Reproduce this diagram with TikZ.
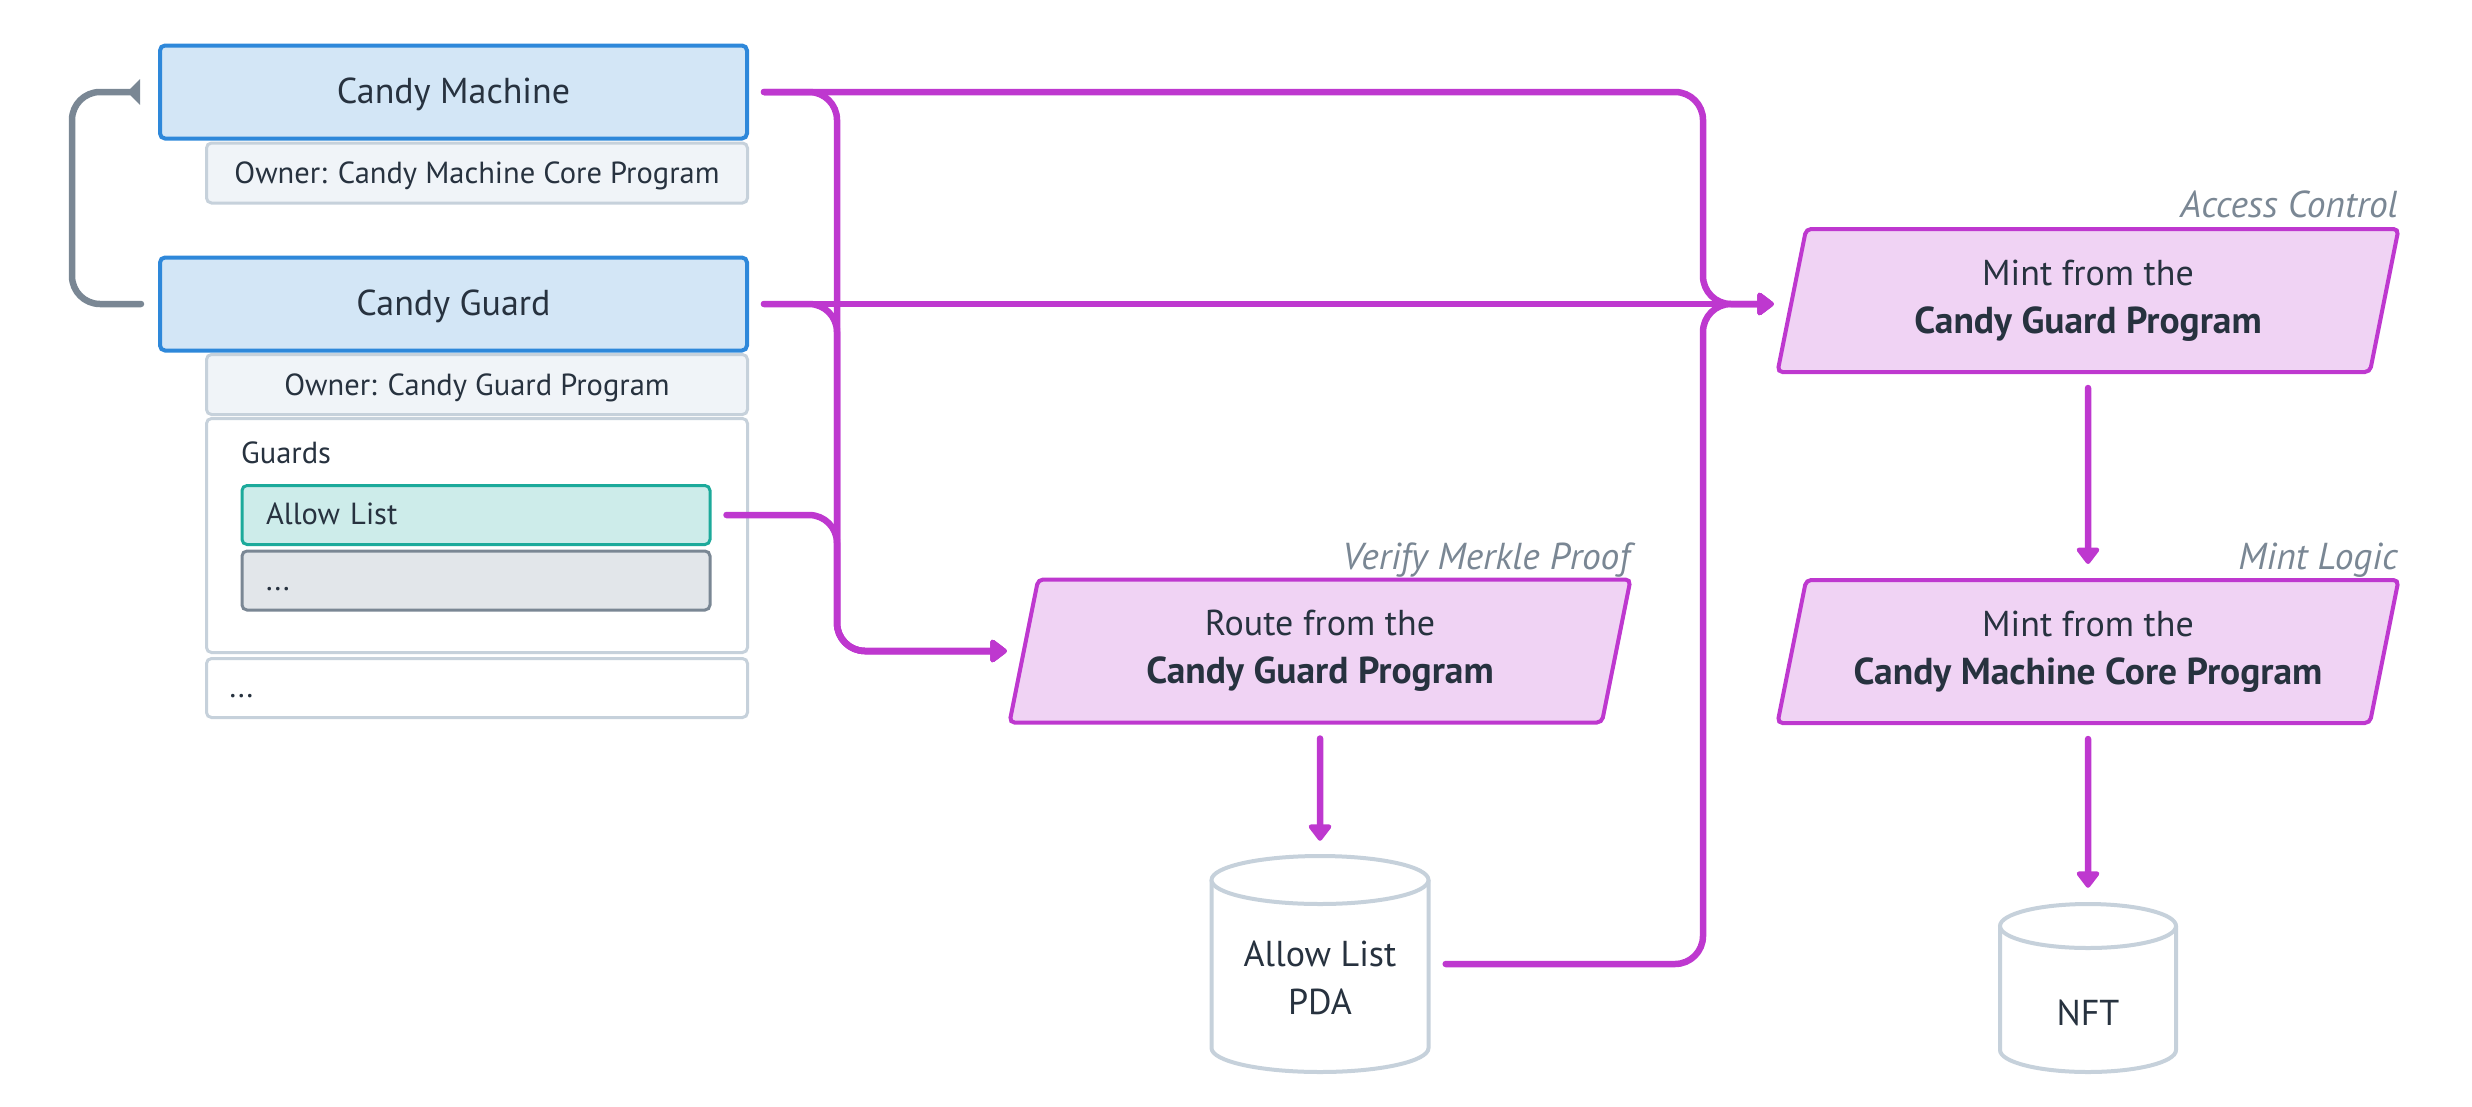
\documentclass[tikz,border=0pt]{standalone}
\usepackage{fontspec}
\setmainfont{PT Sans}
\usetikzlibrary{arrows.meta,shapes.geometric}
\definecolor{ink}{HTML}{27323F}
\definecolor{acctline}{HTML}{2E88DA}
\definecolor{acctfill}{HTML}{D3E6F6}
\definecolor{rim}{HTML}{C6D1DB}
\definecolor{ownerfill}{HTML}{F0F4F8}
\definecolor{allowline}{HTML}{1CAA9B}
\definecolor{allowfill}{HTML}{CDECEA}
\definecolor{slate}{HTML}{7A8794}
\definecolor{dotsfill}{HTML}{E2E6EA}
\definecolor{flowline}{HTML}{BE38CF}
\definecolor{flowfill}{HTML}{F0D3F4}
\newcommand\prog[1]{{\fontsize{37.5}{48}\selectfont\bfseries #1}}
\tikzset{
  big/.style={font=\fontsize{36}{48}\selectfont, text=ink},
  small/.style={font=\fontsize{30.5}{36}\selectfont, text=ink},
  account/.style={big, draw=acctline, fill=acctfill, line width=4pt, rounded corners=5pt,
    minimum width=587pt, minimum height=93pt, text height=25pt, text depth=2pt},
  owner/.style={small, draw=rim, fill=ownerfill, line width=3pt, rounded corners=5pt,
    minimum width=541pt, minimum height=60pt, text height=21.5pt, text depth=0pt},
  panel/.style={small, draw=rim, fill=white, line width=3pt, rounded corners=5pt,
    text width=495pt, inner xsep=23pt, align=left, text height=21pt, text depth=2pt},
  guard/.style={small, line width=3pt, rounded corners=5pt, text width=420pt, inner xsep=24pt,
    align=left, minimum height=59pt, text height=21pt, text depth=2pt},
  instr/.style={big, draw=flowline, fill=flowfill, line width=4pt, rounded corners=5pt,
    trapezium, trapezium left angle=72, trapezium right angle=108, trapezium stretches body,
    minimum width=621pt, minimum height=143pt, align=center},
  tag/.style={font=\fontsize{37.5}{40}\selectfont\itshape, text=slate, anchor=base east, inner sep=0pt},
  store/.style={inner sep=0pt},
  db/.style={draw=rim, fill=white, line width=4pt},
  back/.style={draw=slate, line width=6.5pt, line cap=round, rounded corners=28pt,
    -{Triangle[reversed,length=13pt,width=25pt]}},
  flow/.style={draw=flowline, line width=6.5pt, line cap=round, rounded corners=28pt,
    -{Triangle[length=18pt,width=26pt,round]}, shorten <=15pt},
}
\begin{document}
\begin{tikzpicture}[x=1pt,y=-1pt]
  \useasboundingbox (0,0) rectangle (2472,1106);
  \begin{scope}
    \node[owner] (cmowner) at (477,173) {Owner: Candy Machine Core Program};
    \node[account] (cm) at (453.5,92) {Candy Machine};
    \node[owner] (cgowner) at (477,384.5) {Owner: Candy Guard Program};
    \node[panel, minimum height=234pt] (guards) at (477,535.5) {};
    \node[small, anchor=west, inner sep=0pt] (guardshead) at (241,453) {Guards};
    \node[guard, draw=allowline, fill=allowfill] (allow) at (476,515) {Allow List};
    \node[guard, draw=slate, fill=dotsfill] (moreguards) at (476,580.5) {...};
    \node[panel, minimum height=59pt] (more) at (477,688) {...};
    \node[account] (cg) at (453.5,304) {Candy Guard};
    \draw[back, shorten <=17pt, shorten >=18pt] (cg.west) -- (72,304) -- (72,92) -- (cm.west);
  \end{scope}
  \begin{scope}
    \node[instr] (route) at (1320,651) {Route from the\\\prog{Candy Guard Program}};
    \node[instr] (ac) at (2088,300.5) {Mint from the\\\prog{Candy Guard Program}};
    \node[instr] (ml) at (2088,651.5) {Mint from the\\\prog{Candy Machine Core Program}};
    \node[tag] (routetag) at (1630,569) {Verify Merkle Proof};
    \node[tag] (actag) at (2398,217) {Access Control};
    \node[tag] (mltag) at (2398,569) {Mint Logic};
  \end{scope}
  \begin{scope}
    \node[store, minimum width=217pt, minimum height=216pt] (pda) at (1320,964) {};
    \draw[db] (1211.5,880) -- (1211.5,1048)
      arc[start angle=180, end angle=360, x radius=108.5pt, y radius=24pt] -- (1428.5,880);
    \draw[db] (1320,880) ellipse[x radius=108.5pt, y radius=24pt];
    \node[big, align=center] (pdatext) at (1320,978) {Allow List\\PDA};
    \node[store, minimum width=176pt, minimum height=168pt] (nft) at (2088,988) {};
    \draw[db] (2000,926) -- (2000,1050)
      arc[start angle=180, end angle=360, x radius=88pt, y radius=22pt] -- (2176,926);
    \draw[db] (2088,926) ellipse[x radius=88pt, y radius=22pt];
    \node[big] (nfttext) at (2088,1013) {NFT};
  \end{scope}
  \begin{scope}
    \draw[flow, shorten >=15pt] (cm.east) -- (837,92) -- (837,651) -- (route.left side);
    \draw[flow, shorten >=15pt] (cg.east) -- (837,304) -- (837,651) -- (route.left side);
    \draw[flow, shorten >=15pt] (allow.east) -- (837,515) -- (837,651) -- (route.left side);
    \draw[flow, shorten >=16pt] (cm.east) -- (1703,92) -- (1703,304) -- (cg.east -| ac.left side);
    \draw[flow, shorten >=16pt] (cg.east) -- (cg.east -| ac.left side);
    \draw[flow, shorten <=17pt, shorten >=16pt] (pda.east) -- (1703,964) -- (1703,304)
      -- (cg.east -| ac.left side);
    \draw[flow, shorten <=14pt, shorten >=15pt] (route) -- (pda);
    \draw[flow, shorten <=14pt, shorten >=14pt] (ac) -- (ml);
    \draw[flow, shorten <=14pt, shorten >=16pt] (ml) -- (nft);
  \end{scope}
\end{tikzpicture}
\end{document}
